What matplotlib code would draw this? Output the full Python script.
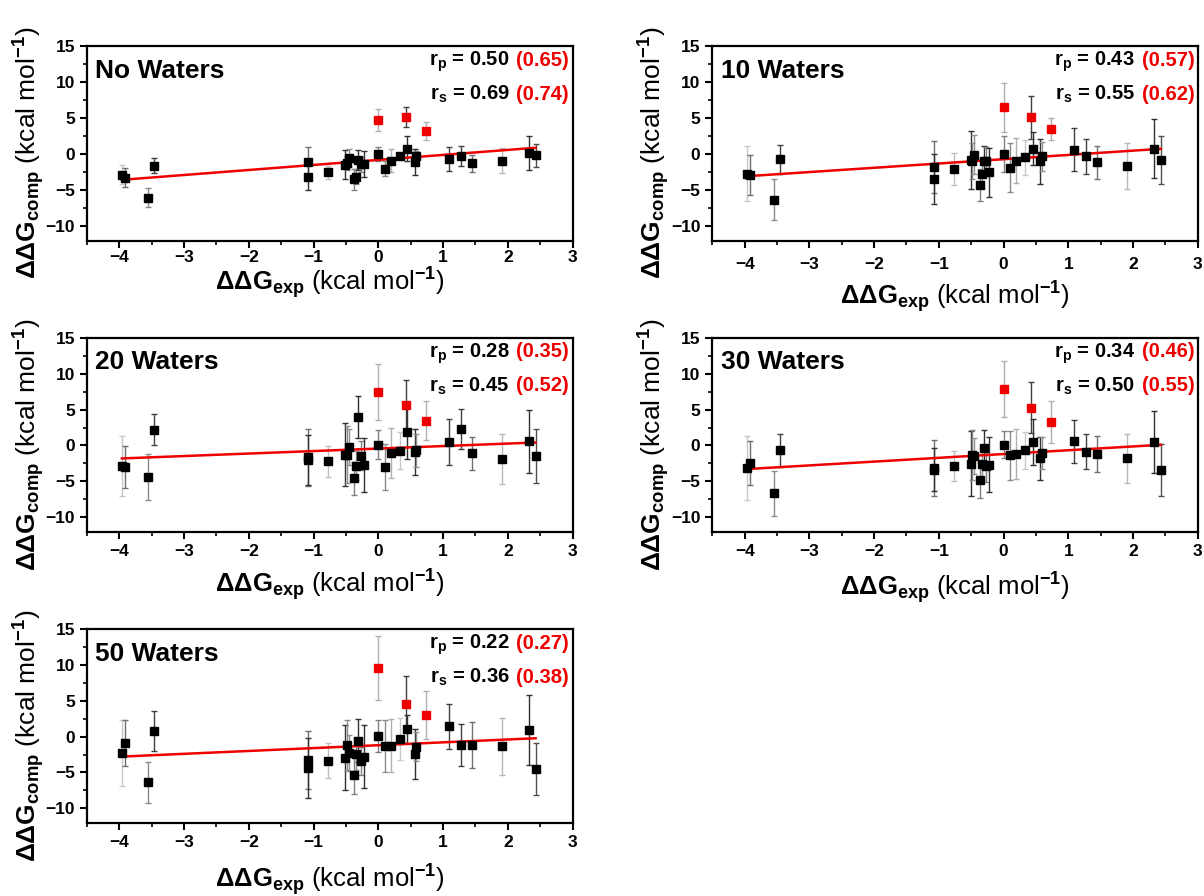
import numpy as np
import matplotlib.pyplot as plt
from matplotlib.ticker import MultipleLocator
from matplotlib.offsetbox import TextArea, HPacker, VPacker, AnchoredOffsetbox

plt.rcParams['font.family'] = 'Liberation Sans'
plt.rcParams['mathtext.fontset'] = 'custom'
plt.rcParams['mathtext.rm'] = 'Liberation Sans'
plt.rcParams['mathtext.bf'] = 'Liberation Sans:bold'
plt.rcParams['mathtext.it'] = 'Liberation Sans:italic'

# experimental ddG (same for every panel)
x_exp = [-3.96, -3.91, -3.55, -3.46, -1.08, -1.08, -0.77, -0.51, -0.49, -0.46,
         -0.37, -0.34, -0.31, -0.27, -0.22, 0.00, 0.10, 0.19, 0.33, 0.45,
         0.56, 0.59, 1.09, 1.28, 1.45, 1.91, 2.33, 2.43]
x_red = [0.00, 0.43, 0.73]

# computed ddG per water count
y_0 = [-2.82, -3.28, -6.06, -1.60, -1.06, -3.10, -2.50, -1.47, -1.20, -0.55,
       -3.50, -3.10, -0.78, -1.43, -1.43, 0.05, -1.99, -0.88, -0.28, 0.75,
       -1.06, -0.32, -0.64, -0.23, -1.25, -0.88, 0.14, -0.18]
e_0 = [1.3, 1.3, 1.3, 1.05, 2.0, 1.8, 0.9, 2.0, 1.0, 1.2, 1.4, 1.0, 1.4, 1.0,
       1.8, 1.0, 1.0, 1.6, 0.5, 1.7, 1.8, 0.8, 1.7, 1.4, 1.2, 1.8, 2.4, 1.6]
yr_0 = [4.78, 5.19, 3.15]
er_0 = [1.5, 1.4, 1.25]

y_10 = [-2.72, -2.86, -6.29, -0.69, -1.75, -3.42, -2.08, -0.78, -1.00, -0.08,
        -4.25, -2.72, -0.88, -0.97, -2.50, 0.05, -1.85, -0.92, -0.46, 0.75,
        -1.01, -0.32, 0.61, -0.32, -1.15, -1.67, 0.75, -0.78]
e_10 = [3.8, 2.8, 2.9, 2.0, 3.6, 3.5, 2.2, 4.0, 2.5, 2.7, 2.2, 2.0, 2.0, 2.0,
        3.4, 2.5, 3.4, 3.1, 2.4, 2.3, 3.1, 2.0, 3.0, 2.4, 2.3, 3.2, 4.1, 3.3]
yr_10 = [6.49, 5.10, 3.47]
er_10 = [3.4, 3.0, 1.5]

y_20 = [-2.82, -3.00, -4.44, 2.22, -1.67, -2.03, -2.22, -1.29, -1.29, -0.22,
        -4.53, -2.82, 3.94, -1.43, -2.72, 0.10, -2.96, -1.01, -0.74, 1.81,
        -0.88, -0.69, 0.51, 2.32, -1.06, -1.85, 0.56, -1.47]
e_20 = [4.2, 2.9, 3.2, 2.2, 4.0, 3.5, 2.1, 4.4, 4.0, 2.5, 2.3, 2.0, 2.9, 2.0,
        3.8, 2.0, 3.2, 3.5, 2.6, 3.7, 3.2, 2.3, 3.2, 2.8, 2.3, 3.5, 4.35, 3.7]
yr_20 = [7.42, 5.60, 3.47]
er_20 = [3.9, 3.5, 2.7]

y_30 = [-3.13, -2.44, -6.67, -0.64, -3.13, -3.40, -2.86, -2.54, -1.29, -1.50,
        -4.86, -2.58, -0.36, -2.92, -2.68, 0.10, -1.39, -1.20, -0.69, 0.42,
        -1.80, -1.06, 0.56, -0.88, -1.15, -1.80, 0.47, -3.40]
e_30 = [4.5, 3.0, 3.1, 2.3, 3.9, 3.0, 2.1, 4.5, 3.5, 2.5, 2.4, 2.2, 2.5, 2.2,
        3.8, 1.9, 3.4, 3.5, 2.6, 3.2, 3.0, 2.2, 3.0, 2.45, 2.5, 3.4, 4.35, 3.65]
yr_30 = [7.88, 5.28, 3.24]
er_30 = [3.9, 3.5, 2.9]

y_50 = [-2.31, -0.92, -6.39, 0.75, -3.24, -4.40, -3.33, -2.92, -1.15, -2.31,
        -5.32, -2.45, -0.60, -3.38, -2.78, 0.05, -1.29, -1.29, -0.36, 1.07,
        -2.40, -1.39, 1.44, -1.20, -1.15, -1.34, 0.93, -4.53]
e_50 = [4.6, 3.2, 2.9, 2.8, 4.0, 4.2, 2.5, 4.5, 3.5, 2.5, 2.7, 2.2, 3.0, 2.0,
        4.4, 2.2, 3.6, 3.7, 2.9, 2.0, 3.5, 2.0, 3.1, 2.95, 3.2, 4.0, 4.9, 3.65]
yr_50 = [9.58, 4.50, 3.00]
er_50 = [4.45, 4.0, 3.4]

titles = ['No Waters', '10 Waters', '20 Waters', '30 Waters', '50 Waters']
r_p = ['0.50', '0.43', '0.28', '0.34', '0.22']
r_p_all = ['0.65', '0.57', '0.35', '0.46', '0.27']
r_s = ['0.69', '0.55', '0.45', '0.50', '0.36']
r_s_all = ['0.74', '0.62', '0.52', '0.55', '0.38']
fit_slope = [0.696, 0.594, 0.347, 0.528, 0.40]
fit_icpt = [-0.80, -0.70, -0.43, -1.19, -1.20]

# error bar greys, one per compound
bar_grey = ['#c8c8c8', '#707070', '#8a8a8a', '#404040', '#707070', '#303030',
            '#c0c0c0', '#303030', '#8a8a8a', '#909090', '#808080', '#909090',
            '#303030', '#808080', '#303030', '#808080', '#8a8a8a', '#b0b0b0',
            '#c8c8c8', '#303030', '#303030', '#909090', '#404040', '#404040',
            '#707070', '#b8b8b8', '#303030', '#505050']
red_grey = ['#b0b0b0', '#404040', '#b0b0b0']

panels = [(y_0, e_0, yr_0, er_0), (y_10, e_10, yr_10, er_10),
          (y_20, e_20, yr_20, er_20), (y_30, e_30, yr_30, er_30),
          (y_50, e_50, yr_50, er_50)]

W, H = 1204, 896
# axes boxes in pixels: left, top, right, bottom
boxes = [(87, 46, 572.5, 240.7), (712.3, 46, 1197.8, 240.7),
         (87, 337.7, 572.5, 531.7), (712.3, 337.7, 1197.8, 531.7),
         (87, 629, 572.5, 822.7)]
tick_pad = [1.5, 6.5, 3.5, 3.5, 3.5]
xlab_y = [-0.218, -0.29, -0.275, -0.29, -0.295]

fig = plt.figure(figsize=(W / 100, H / 100), dpi=100)

for i, (ys, es, yr, er) in enumerate(panels):
    l, t, r, b = boxes[i]
    ax = fig.add_axes([l / W, 1 - b / H, (r - l) / W, (b - t) / H])

    for xi, yi, ei, c in zip(x_exp, ys, es, bar_grey):
        ax.errorbar(xi, yi, yerr=ei, fmt='none', ecolor=c, elinewidth=1,
                    capsize=2.5, capthick=1, zorder=2)
    for xi, yi, ei, c in zip(x_red, yr, er, red_grey):
        ax.errorbar(xi, yi, yerr=ei, fmt='none', ecolor=c, elinewidth=1,
                    capsize=2.5, capthick=1, zorder=2)

    xf = np.array([min(x_exp), max(x_exp)])
    ax.plot(xf, fit_slope[i] * xf + fit_icpt[i], color='#ee0000', lw=1.8, zorder=3)

    ax.plot(x_exp, ys, 's', color='black', ms=5.5, zorder=4)
    ax.plot(x_red, yr, 's', color='#ee0000', ms=5.5, zorder=4)

    ax.set_xlim(-4.5, 3)
    ax.xaxis.set_major_locator(MultipleLocator(1))
    ax.xaxis.set_minor_locator(MultipleLocator(0.5))
    ax.yaxis.set_minor_locator(MultipleLocator(2.5))
    ax.set_yticks([-10, -5, 0, 5, 10, 15])
    ax.set_ylim(-12, 15)
    ax.tick_params(which='major', direction='out', length=5, width=1.5,
                   labelsize=12.5)
    ax.tick_params(axis='x', which='major', pad=tick_pad[i])
    ax.tick_params(which='minor', direction='out', length=3, width=1.2)
    for lab in ax.get_xticklabels() + ax.get_yticklabels():
        lab.set_fontweight('bold')
    for sp in ax.spines.values():
        sp.set_linewidth(1.6)

    ax.set_xlabel(r'$\mathbf{\Delta\Delta G_{exp}}$ (kcal mol$^{\mathbf{-1}}$)',
                  fontsize=18.5, va='center')
    ax.xaxis.set_label_coords(0.5, xlab_y[i])
    ax.set_ylabel(r'$\mathbf{\Delta\Delta G_{comp}}$ (kcal mol$^{\mathbf{-1}}$)',
                  fontsize=19, va='center')
    ax.yaxis.set_label_coords(-0.12, 0.45)

    ax.text(0.017, 0.935, titles[i], transform=ax.transAxes, ha='left',
            va='top', fontsize=19, fontweight='bold')

    tp = dict(color='black', fontweight='bold', fontsize=14.5)
    tr = dict(color='#ee0000', fontweight='bold', fontsize=14.5)
    row1 = HPacker(children=[TextArea(r'r$_\mathbf{p}$ = ' + r_p[i], textprops=tp),
                             TextArea('(' + r_p_all[i] + ')', textprops=tr)],
                   pad=0, sep=5, align='baseline')
    row2 = HPacker(children=[TextArea(r'r$_\mathbf{s}$ = ' + r_s[i], textprops=tp),
                             TextArea('(' + r_s_all[i] + ')', textprops=tr)],
                   pad=0, sep=5, align='baseline')
    box = VPacker(children=[row1, row2], pad=0, sep=7, align='right')
    anc = AnchoredOffsetbox(loc='upper right', child=box, pad=0.1,
                            borderpad=0.15, frameon=False)
    ax.add_artist(anc)

fig.savefig('out.png', dpi=100)
